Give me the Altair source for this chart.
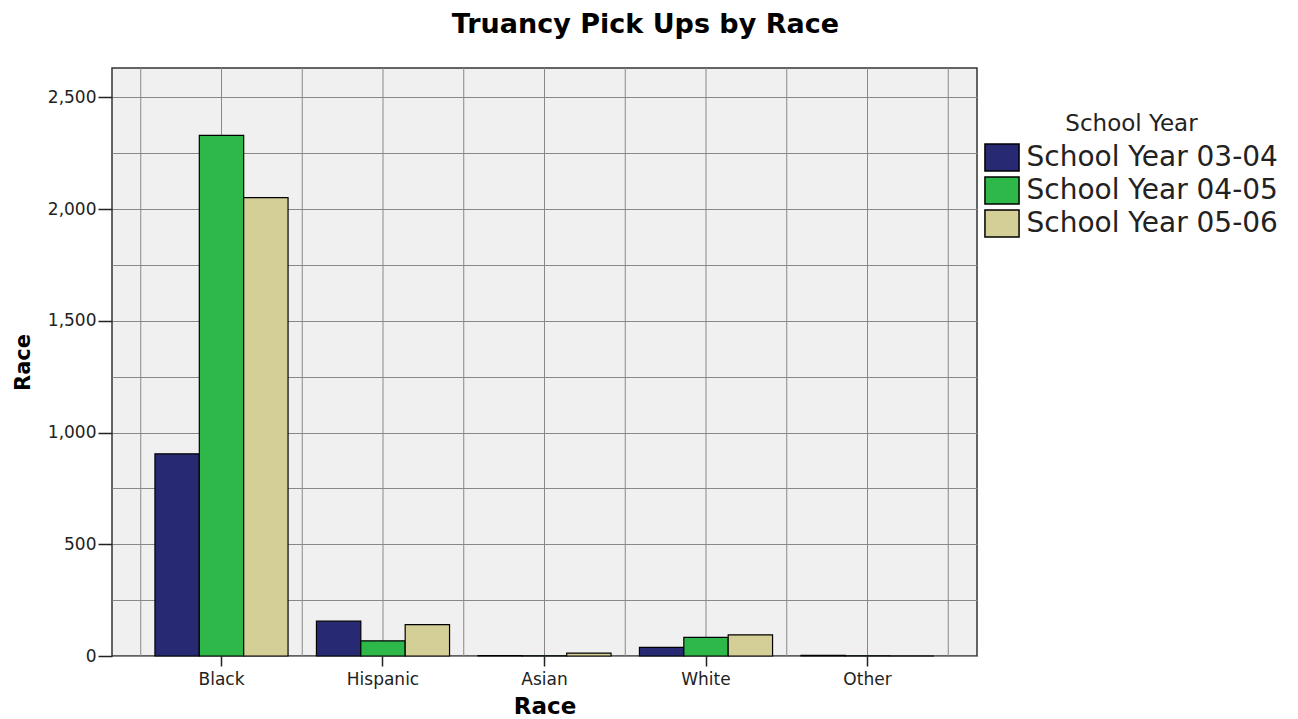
import altair as alt
import pandas as pd

races = ["Black", "Hispanic", "Asian", "White", "Other"]
years = ["School Year 03-04", "School Year 04-05", "School Year 05-06"]
yr_0304 = [905, 156, 2, 39, 3]
yr_0405 = [2330, 68, 1, 83, 1]
yr_0506 = [2052, 140, 13, 95, 0]
colors = ["#272a72", "#2fb84a", "#d4cf96"]
y_ticks = [0, 250, 500, 750, 1000, 1250, 1500, 1750, 2000, 2250, 2500]

rows = []
for yr, vals in zip(years, [yr_0304, yr_0405, yr_0506]):
    for r, v in zip(races, vals):
        rows.append({"race": r, "year": yr, "count": v})
df = pd.DataFrame(rows)
cats = pd.DataFrame({"race": races})

FONT = "DejaVu Sans"

xscale = alt.Scale(domain=races, paddingInner=0, paddingOuter=0.178)
x_axis = alt.Axis(title="Race", labelAngle=0, grid=False, tickSize=10,
                  tickWidth=1.5, tickColor="#222", domain=False,
                  labelAlign="center", bandPosition=0.5,
                  labelFontSize=17, labelFont=FONT, labelColor="#222",
                  labelPadding=5, titleFontSize=23, titleFont=FONT,
                  titleFontWeight="bold", titleColor="black", titlePadding=8)

bars = alt.Chart(df).mark_bar(stroke="black", strokeWidth=1.2).encode(
    x=alt.X("race:N", sort=races, scale=xscale, axis=x_axis),
    xOffset=alt.XOffset("year:N", sort=years,
                        scale=alt.Scale(domain=years, paddingInner=0, paddingOuter=0.32)),
    y=alt.Y("count:Q", scale=alt.Scale(domain=[0, 2632], nice=False),
            axis=alt.Axis(title="Race", values=y_ticks,
                          labelExpr="datum.value % 500 === 0 ? format(datum.value, ',') : ''",
                          tickOpacity={"condition": {"test": "datum.value % 500 === 0", "value": 1}, "value": 0},
                          tickSize=14, tickWidth=1.5, tickColor="#222", domain=False,
                          grid=True, gridColor="#888888", gridWidth=1,
                          labelFontSize=17, labelFont=FONT, labelColor="#222", labelPadding=2,
                          titleFontSize=21, titleFont=FONT, titleFontWeight="bold",
                          titleColor="black", titlePadding=14)),
    color=alt.Color("year:N", sort=years,
                    scale=alt.Scale(domain=years, range=colors),
                    legend=alt.Legend(title="School Year", orient="none",
                                      legendX=873.5, legendY=45,
                                      titleFontSize=23, titleFont=FONT, titleFontWeight="normal",
                                      titleColor="#222", titleAnchor="middle", titlePadding=5,
                                      labelFontSize=28, labelFont=FONT, labelColor="#222",
                                      labelLimit=500, labelOffset=8,
                                      symbolType="M-1.1,-0.87H1.1V0.87H-1.1Z", symbolSize=961,
                                      symbolStrokeColor="black", symbolStrokeWidth=1.5,
                                      symbolOpacity=1, rowPadding=0)),
)

grid_mid = alt.Chart(cats).mark_rule(color="#888888", strokeWidth=1).encode(
    x=alt.X("race:N", sort=races, scale=xscale, bandPosition=0.5, axis=x_axis),
)
grid_edge = alt.Chart(cats).mark_rule(color="#888888", strokeWidth=1).encode(
    x=alt.X("race:N", sort=races, scale=xscale, bandPosition=0, axis=x_axis),
)
grid_last = alt.Chart(cats).transform_filter(
    alt.datum.race == races[-1]
).mark_rule(color="#888888", strokeWidth=1).encode(
    x=alt.X("race:N", sort=races, scale=xscale, bandPosition=1, axis=x_axis),
)

chart = alt.layer(grid_mid, grid_edge, grid_last, bars).properties(
    width=865, height=588,
    title=alt.TitleParams("Truancy Pick Ups by Race", fontSize=27, font=FONT,
                          fontWeight="bold", color="black", anchor="middle",
                          frame="bounds", offset=29),
    padding={"left": 4, "top": 2, "right": 5, "bottom": 0},
).configure_view(
    fill="#f0f0f0", stroke="#333333", strokeWidth=1.5
)

chart.save("out.html", embed_options={"renderer": "svg", "actions": False})
